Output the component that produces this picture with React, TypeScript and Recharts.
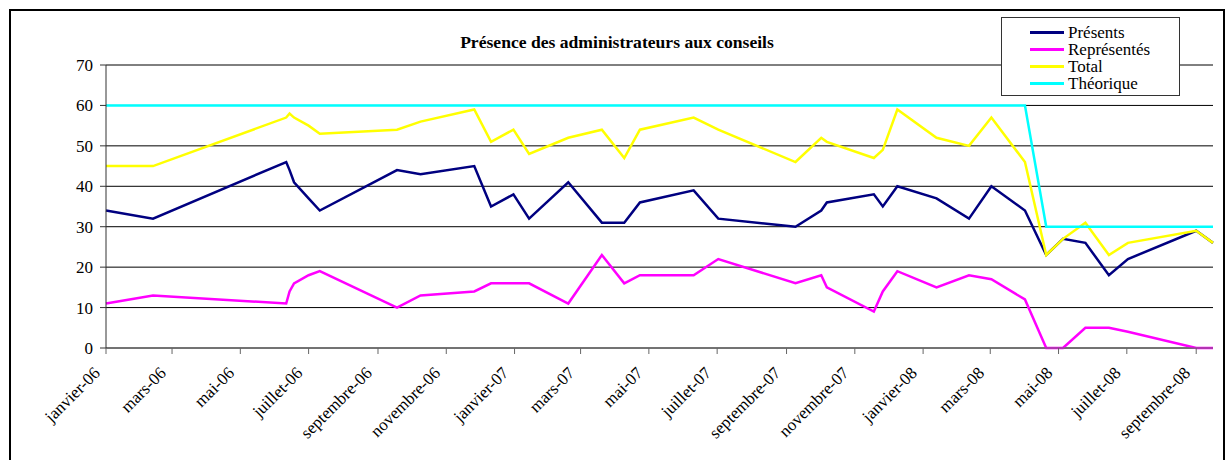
import { LineChart, Line, XAxis, YAxis, CartesianGrid, Legend } from 'recharts';

// dates des conseils
const DATES = [
  '2006-01-01', '2006-02-12', '2006-06-11', '2006-06-14', '2006-06-18', '2006-07-01',
  '2006-07-11', '2006-09-18', '2006-10-09', '2006-11-26', '2006-12-11', '2006-12-31',
  '2007-01-14', '2007-02-18', '2007-03-20', '2007-04-09', '2007-04-23', '2007-06-10',
  '2007-07-02', '2007-09-09', '2007-10-02', '2007-10-07', '2007-11-18', '2007-11-26',
  '2007-12-09', '2008-01-13', '2008-02-11', '2008-03-02', '2008-04-01', '2008-04-20',
  '2008-05-05', '2008-05-25', '2008-06-15', '2008-07-02', '2008-09-01', '2008-09-16',
];

const PRESENTS = [34, 32, 46, 44, 41, 37, 34, 44, 43, 45, 35, 38, 32, 41, 31, 31, 36, 39, 32, 30, 34, 36, 38, 35, 40, 37, 32, 40, 34, 23, 27, 26, 18, 22, 29, 26];
const REPRESENTES = [11, 13, 11, 14, 16, 18, 19, 10, 13, 14, 16, 16, 16, 11, 23, 16, 18, 18, 22, 16, 18, 15, 9, 14, 19, 15, 18, 17, 12, 0, 0, 5, 5, 4, 0, 0];
const TOTAL = [45, 45, 57, 58, 57, 55, 53, 54, 56, 59, 51, 54, 48, 52, 54, 47, 54, 57, 54, 46, 52, 51, 47, 49, 59, 52, 50, 57, 46, 23, 27, 31, 23, 26, 29, 26];
const THEORIQUE = [60, 60, 60, 60, 60, 60, 60, 60, 60, 60, 60, 60, 60, 60, 60, 60, 60, 60, 60, 60, 60, 60, 60, 60, 60, 60, 60, 60, 60, 30, 30, 30, 30, 30, 30, 30];

const MONTHS = ['janvier', 'février', 'mars', 'avril', 'mai', 'juin', 'juillet', 'août', 'septembre', 'octobre', 'novembre', 'décembre'];
const Y_TICKS = [0, 10, 20, 30, 40, 50, 60, 70];

const SERIES = [
  { key: 'presents', name: 'Présents', color: '#000080' },
  { key: 'representes', name: 'Représentés', color: '#ff00ff' },
  { key: 'total', name: 'Total', color: '#ffff00' },
  { key: 'theorique', name: 'Théorique', color: '#00ffff' },
];

const FONT = '"Liberation Serif", "Times New Roman", serif';
const DAY = 86400000;
const START = Date.UTC(2006, 0, 1);

const toDay = (s: string) => Math.round((Date.parse(s) - START) / DAY);

const data = DATES.map((d, i) => ({
  day: toDay(d),
  presents: PRESENTS[i],
  representes: REPRESENTES[i],
  total: TOTAL[i],
  theorique: THEORIQUE[i],
}));

// une graduation tous les deux mois
const xTicks: number[] = [];
for (let m = 0; m <= 32; m += 2) {
  xTicks.push(Math.round((Date.UTC(2006, m, 1) - START) / DAY));
}

const formatTick = (day: number) => {
  const d = new Date(START + day * DAY);
  const yy = String(d.getUTCFullYear() % 100).padStart(2, '0');
  return `${MONTHS[d.getUTCMonth()]}-${yy}`;
};

const AngledTick = ({ x, y, payload }: any) => (
  <text
    x={x - 5}
    y={y + 18}
    transform={`rotate(-45, ${x - 5}, ${y + 18})`}
    textAnchor="end"
    fontFamily={FONT}
    fontSize={17}
    fill="#000"
  >
    {formatTick(payload.value)}
  </text>
);

const renderLegend = () => (
  <div
    style={{
      width: 179,
      height: 79,
      boxSizing: 'border-box',
      border: '1px solid #333',
      background: '#fff',
      padding: '6px 0 0 28px',
      fontFamily: FONT,
      fontSize: 17,
      lineHeight: '17px',
      color: '#000',
    }}
  >
    {SERIES.map((s) => (
      <div key={s.key} style={{ display: 'flex', alignItems: 'center', height: 17 }}>
        <div style={{ width: 34, height: 3, background: s.color, marginRight: 4 }} />
        <span>{s.name}</span>
      </div>
    ))}
  </div>
);

export default function App() {
  return (
    <div
      style={{
        position: 'absolute',
        left: 0,
        top: 0,
        width: 1226,
        height: 460,
        background: '#fff',
        overflow: 'hidden',
        fontFamily: FONT,
      }}
    >
      <div
        style={{
          position: 'absolute',
          left: 9,
          top: 9,
          width: 1216,
          height: 470,
          boxSizing: 'border-box',
          border: '2px solid #000',
        }}
      />
      <div
        style={{
          position: 'absolute',
          left: 0,
          width: 1234,
          top: 32,
          textAlign: 'center',
          fontWeight: 'bold',
          fontSize: 17.6,
          lineHeight: '20px',
          color: '#000',
        }}
      >
        Présence des administrateurs aux conseils
      </div>
      <LineChart
        width={1226}
        height={460}
        data={data}
        margin={{ top: 65, right: 13, bottom: 12, left: 0 }}
        style={{ position: 'absolute', left: 0, top: 0 }}
      >
        <CartesianGrid vertical={false} stroke="#000" strokeWidth={1} />
        <XAxis
          dataKey="day"
          type="number"
          domain={[0, 'dataMax']}
          ticks={xTicks}
          interval={0}
          height={100}
          tick={<AngledTick />}
          tickSize={6}
          tickMargin={2}
          axisLine={{ stroke: '#666' }}
          tickLine={{ stroke: '#666' }}
        />
        <YAxis
          domain={[0, 70]}
          ticks={Y_TICKS}
          width={106}
          interval={0}
          tickSize={6}
          tickMargin={7}
          axisLine={{ stroke: '#333' }}
          tickLine={{ stroke: '#333' }}
          tick={{ fontFamily: FONT, fontSize: 17, fill: '#000' }}
        />
        {SERIES.map((s) => (
          <Line
            key={s.key}
            type="linear"
            dataKey={s.key}
            name={s.name}
            stroke={s.color}
            strokeWidth={2.5}
            dot={false}
            activeDot={false}
            isAnimationActive={false}
          />
        ))}
        <Legend
          layout="vertical"
          align="center"
          verticalAlign="middle"
          content={renderLegend}
          wrapperStyle={{ position: 'absolute', left: 1001, top: 17, width: 179, height: 79 }}
        />
      </LineChart>
    </div>
  );
}
